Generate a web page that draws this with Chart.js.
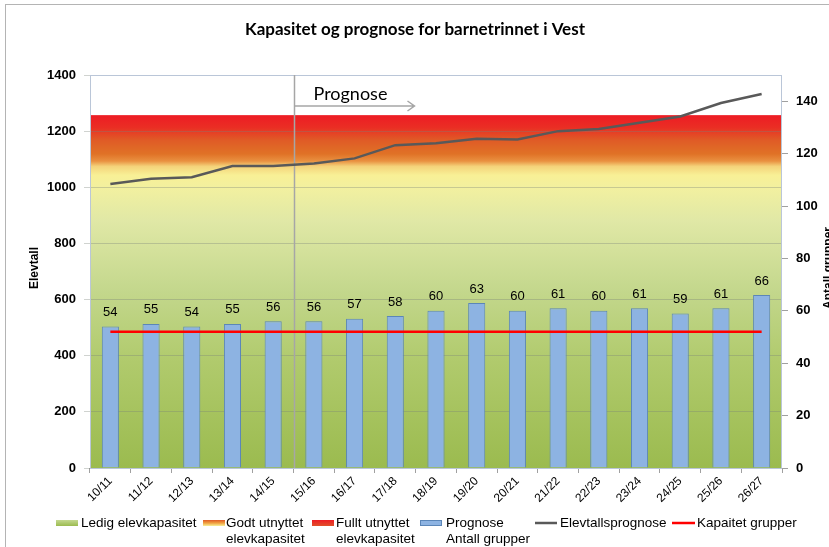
<!DOCTYPE html>
<html>
<head>
<meta charset="utf-8">
<script src="https://cdn.jsdelivr.net/npm/chart.js@4/dist/chart.umd.min.js"></script>
<style>
  html, body { margin: 0; padding: 0; background: #fff; }
  #wrap { width: 829px; height: 547px; }
</style>
</head>
<body>
<div id="wrap"><canvas id="myChart" width="829" height="547"></canvas></div>
<script>
const skoleaar = ['10/11', '11/12', '12/13', '13/14', '14/15', '15/16', '16/17', '17/18', '18/19',
    '19/20', '20/21', '21/22', '22/23', '23/24', '24/25', '25/26', '26/27'];
const antallGrupper = [54, 55, 54, 55, 56, 56, 57, 58, 60, 63, 60, 61, 60, 61, 59, 61, 66];
const elevtallsprognose = [1012, 1030, 1036, 1076, 1076, 1085, 1103, 1150, 1157, 1173, 1170, 1200, 1208, 1230, 1252, 1300, 1332];
const kapasitetGrupper = [52, 52, 52, 52, 52, 52, 52, 52, 52, 52, 52, 52, 52, 52, 52, 52, 52];
const elevtallTicks = [0, 200, 400, 600, 800, 1000, 1200, 1400];
const grupperTicks = [0, 20, 40, 60, 80, 100, 120, 140];
const elevkapasitet = 1257;      // top of the capacity band (elever)
const prognoseStart = 4.5;       // between 14/15 and 15/16

const ARIAL = "'Liberation Sans', Arial, sans-serif";
const CALIBRI = "Lato, 'Open Sans', sans-serif";

// colour stops of the capacity band, from 0 up to full capacity
const bandStops = [
    [0.00, '#9bbb4f'],
    [0.30, '#b0ca6c'],
    [0.50, '#c3d78c'],
    [0.70, '#e0e8a6'],
    [0.79, '#f1f0a0'],
    [0.83, '#f8f096'],
    [0.855, '#f4d27a'],
    [0.870, '#e99040'],
    [0.890, '#e07226'],
    [0.930, '#e05a26'],
    [0.965, '#ea2e24'],
    [1.00, '#ed1c24'],
];

const bakgrunn = {
    id: 'bakgrunn',
    beforeDraw(chart) {
        const { ctx, chartArea: a, scales } = chart;
        ctx.save();
        ctx.fillStyle = '#fff';
        ctx.fillRect(0, 0, chart.width, chart.height);
        // chart frame
        ctx.strokeStyle = '#b4b4b4';
        ctx.lineWidth = 1;
        ctx.strokeRect(5.5, 4.5, 900, 700);
        const y0 = scales.y.getPixelForValue(0);
        const yTop = scales.y.getPixelForValue(elevkapasitet);
        const g = ctx.createLinearGradient(0, y0, 0, yTop);
        bandStops.forEach(([p, c]) => g.addColorStop(p, c));
        ctx.fillStyle = g;
        ctx.fillRect(a.left, yTop, a.right - a.left, y0 - yTop);
        ctx.restore();
    },
    beforeDatasetsDraw(chart) {
        const { ctx, chartArea: a, scales } = chart;
        ctx.save();
        ctx.strokeStyle = '#bac6d8';
        ctx.lineWidth = 1;
        ctx.strokeRect(a.left + 0.5, a.top + 0.5, a.right - a.left - 1, a.bottom - a.top);
        // prognose marker
        const x = Math.round(scales.x.getPixelForValue(prognoseStart)) + 0.5;
        ctx.strokeStyle = '#a6a6a6';
        ctx.lineWidth = 1.5;
        ctx.beginPath();
        ctx.moveTo(x, a.top);
        ctx.lineTo(x, a.bottom);
        ctx.stroke();
        const ay = a.top + 31;
        const ax = x + 120;
        ctx.beginPath();
        ctx.moveTo(x, ay);
        ctx.lineTo(ax, ay);
        ctx.moveTo(ax - 7, ay - 5);
        ctx.lineTo(ax, ay);
        ctx.lineTo(ax - 7, ay + 5);
        ctx.stroke();
        ctx.fillStyle = '#000';
        ctx.font = '18px ' + CALIBRI;
        ctx.textBaseline = 'alphabetic';
        ctx.textAlign = 'left';
        ctx.fillText('Prognose', x + 19, a.top + 25);
        ctx.restore();
    },
    afterDatasetsDraw(chart) {
        const { ctx } = chart;
        const meta = chart.getDatasetMeta(0);
        ctx.save();
        ctx.fillStyle = '#000';
        ctx.font = '13px ' + ARIAL;
        ctx.textAlign = 'center';
        ctx.textBaseline = 'middle';
        meta.data.forEach((bar, i) => {
            ctx.fillText(String(antallGrupper[i]), bar.x, bar.y - 14);
        });
        ctx.restore();
    },
    afterDraw(chart) {
        const { ctx } = chart;
        ctx.save();
        // title
        ctx.fillStyle = '#000';
        ctx.font = 'bold 17px ' + CALIBRI;
        ctx.textAlign = 'center';
        ctx.textBaseline = 'middle';
        ctx.fillText('Kapasitet og prognose for barnetrinnet i Vest', 415, 30);
        // axis titles
        ctx.font = 'bold 12px ' + ARIAL;
        ctx.save();
        ctx.translate(35, 268);
        ctx.rotate(-Math.PI / 2);
        ctx.fillText('Elevtall', 0, 0);
        ctx.restore();
        ctx.save();
        ctx.translate(829, 268);
        ctx.rotate(-Math.PI / 2);
        ctx.fillText('Antall grupper', 0, 0);
        ctx.restore();

        // legend
        const ly = 523, ly2 = 539;
        ctx.font = '13.5px ' + ARIAL;
        ctx.textAlign = 'left';
        const box = (x, fill) => {
            ctx.fillStyle = fill;
            ctx.fillRect(x, ly - 3, 22, 6);
        };
        const vgrad = (x, stops) => {
            const g = ctx.createLinearGradient(0, ly - 3, 0, ly + 3);
            stops.forEach((c, i) => g.addColorStop(i / (stops.length - 1), c));
            return g;
        };
        box(56, vgrad(56, ['#c4d890', '#9bbb4f']));
        ctx.fillStyle = '#000';
        ctx.fillText('Ledig elevkapasitet', 81, ly);
        box(203, vgrad(203, ['#e05a26', '#f0a040', '#f8f096']));
        ctx.fillStyle = '#000';
        ctx.fillText('Godt utnyttet', 226, ly);
        ctx.fillText('elevkapasitet', 226, ly2);
        box(312, vgrad(312, ['#ed1c24', '#e0502a']));
        ctx.fillStyle = '#000';
        ctx.fillText('Fullt utnyttet', 336, ly);
        ctx.fillText('elevkapasitet', 336, ly2);
        box(420, '#8db3e2');
        ctx.strokeStyle = '#5b86b8';
        ctx.lineWidth = 1;
        ctx.strokeRect(420.5, ly - 2.5, 21, 5);
        ctx.fillStyle = '#000';
        ctx.fillText('Prognose', 446, ly);
        ctx.fillText('Antall grupper', 446, ly2);
        ctx.lineWidth = 2.5;
        ctx.strokeStyle = '#595959';
        ctx.beginPath(); ctx.moveTo(535, ly); ctx.lineTo(557, ly); ctx.stroke();
        ctx.fillText('Elevtallsprognose', 560, ly);
        ctx.strokeStyle = '#ff0000';
        ctx.beginPath(); ctx.moveTo(672, ly); ctx.lineTo(695, ly); ctx.stroke();
        ctx.fillText('Kapaitet grupper', 697, ly);
        ctx.restore();
    }
};

const ctx = document.getElementById('myChart').getContext('2d');
const myChart = new Chart(ctx, {
    type: 'bar',
    data: {
        labels: skoleaar,
        datasets: [
            {
                label: 'Prognose Antall grupper',
                data: antallGrupper,
                yAxisID: 'y1',
                backgroundColor: '#8db3e2',
                borderColor: '#5b86b8',
                borderWidth: 1,
                categoryPercentage: 1,
                barPercentage: 0.42,
                order: 3,
            },
            {
                type: 'line',
                label: 'Elevtallsprognose',
                data: elevtallsprognose,
                yAxisID: 'y',
                borderColor: '#595959',
                borderWidth: 2.5,
                pointRadius: 0,
                tension: 0,
                order: 1,
            },
            {
                type: 'line',
                label: 'Kapaitet grupper',
                data: kapasitetGrupper,
                yAxisID: 'y1',
                borderColor: '#ff0000',
                borderWidth: 2.5,
                pointRadius: 0,
                tension: 0,
                order: 2,
            }
        ]
    },
    options: {
        responsive: false,
        animation: false,
        layout: { padding: { top: 75, left: 0, right: 0, bottom: 0 } },
        plugins: {
            legend: { display: false },
            title: { display: false },
            tooltip: { enabled: false },
        },
        scales: {
            x: {
                afterFit: s => { s.height = 79; },
                grid: { drawOnChartArea: false, offset: true, tickLength: 5, color: '#a0a0a0' },
                border: { display: false },
                ticks: {
                    font: { family: ARIAL, size: 12 },
                    color: '#000',
                    maxRotation: 45,
                    minRotation: 45,
                    padding: 1,
                },
            },
            y: {
                position: 'left',
                min: 0,
                max: 1400,
                afterFit: s => { s.width = 90; },
                afterBuildTicks: s => { s.ticks = elevtallTicks.map(v => ({ value: v })); },
                grid: { color: 'rgba(120,130,120,0.35)', tickLength: 6 },
                border: { display: false },
                ticks: {
                    font: { family: ARIAL, size: 13, weight: 'bold' },
                    color: '#000',
                    padding: 8,
                    callback: v => String(v),
                },
            },
            y1: {
                position: 'right',
                min: 0,
                max: 150,
                afterFit: s => { s.width = 47; },
                afterBuildTicks: s => { s.ticks = grupperTicks.map(v => ({ value: v })); },
                grid: { drawOnChartArea: false, color: '#a0a0a0', tickLength: 6 },
                border: { display: false },
                ticks: {
                    font: { family: ARIAL, size: 13, weight: 'bold' },
                    color: '#000',
                    padding: 8,
                    callback: v => String(v),
                },
            },
        },
    },
    plugins: [bakgrunn],
});
</script>
</body>
</html>
